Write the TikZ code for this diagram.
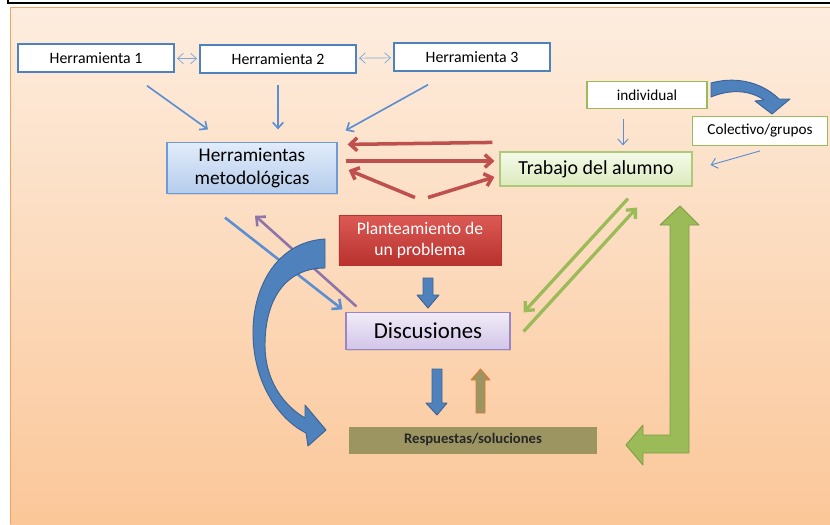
\documentclass[tikz,border=0pt]{standalone}
\usepackage{fontspec}
\setmainfont{Carlito}
\usetikzlibrary{arrows.meta,shadows}

\definecolor{bgtop}{HTML}{FDEDDF}
\definecolor{bgbot}{HTML}{FBC799}
\definecolor{bgline}{HTML}{F2A460}
\definecolor{toolblue}{HTML}{4F81BD}
\definecolor{lineblue}{HTML}{5B8FD2}
\definecolor{blockblue}{HTML}{4F81BD}
\definecolor{blockedge}{HTML}{3C6496}
\definecolor{metedge}{HTML}{6B9BDB}
\definecolor{mettop}{HTML}{E2ECFA}
\definecolor{metbot}{HTML}{B5CCEC}
\definecolor{grn}{HTML}{9BBB59}
\definecolor{grnedge}{HTML}{7F9E44}
\definecolor{trabtop}{HTML}{F5FAEA}
\definecolor{trabbot}{HTML}{DCEABD}
\definecolor{redline}{HTML}{C0504D}
\definecolor{plantop}{HTML}{DC5A55}
\definecolor{planbot}{HTML}{B8322E}
\definecolor{purp}{HTML}{8064A2}
\definecolor{disctop}{HTML}{F1ECF8}
\definecolor{discbot}{HTML}{D1C5E8}
\definecolor{discedge}{HTML}{9C85C4}
\definecolor{olive}{HTML}{9C9562}
\definecolor{oliveedge}{HTML}{E07A2E}

\begin{document}
\begin{tikzpicture}[x=0.03cm, y=-0.03cm,
    tool/.style={draw=toolblue, line width=1.2pt, fill=white, inner sep=0pt,
      minimum width=4.68cm, minimum height=0.84cm,
      font=\fontsize{13.5}{16}\selectfont},
    group/.style={draw=grn, line width=1.6pt, fill=white, inner sep=0pt,
      font=\fontsize{13}{15}\selectfont},
    thin/.style={->, >={Straight Barb[length=5pt, width=9pt]}, line width=1.4pt},
    fat/.style={->, >={Straight Barb[length=6pt, width=11pt]}, line width=3pt},
    block/.style={line width=0.8pt, line join=round}]

  % background
  \useasboundingbox (0,0) rectangle (830,524);
  \fill[white] (0,0) rectangle (830,524);
  \shade[top color=bgtop, bottom color=bgbot] (10,7) rectangle (830,524);
  \draw[bgline, line width=1pt] (10.5,524) -- (10.5,7.5) -- (830,7.5);
  \draw[black, line width=1.4pt] (8,0) -- (8,3) -- (830,3);

  % boxes
  \node[tool] (h1) at (96,58) {Herramienta 1};
  \node[tool] (h2) at (278,59) {Herramienta 2};
  \node[tool] (h3) at (472,57) {Herramienta 3};
  \node[draw=metedge, line width=1pt, top color=mettop, bottom color=metbot,
    minimum width=5.1cm, minimum height=1.53cm, inner sep=0pt, align=center,
    drop shadow={opacity=0.2, shadow xshift=1pt, shadow yshift=-1pt},
    font=\fontsize{16.5}{20}\selectfont] (met) at (252,168)
    {Herramientas\\metodológicas};
  \node[draw=grn!80, line width=1pt, top color=trabtop, bottom color=trabbot,
    minimum width=5.76cm, minimum height=1.02cm, inner sep=0pt,
    drop shadow={opacity=0.2, shadow xshift=1pt, shadow yshift=-1pt},
    font=\fontsize{17}{20}\selectfont] (trab) at (596,169) {Trabajo del alumno};
  \node[group, minimum width=3.6cm, minimum height=0.81cm] (ind) at (647,95)
    {individual};
  \node[group, minimum width=4.05cm, minimum height=0.87cm] (col) at (760,131)
    {Colectivo/grupos};
  \node[draw=planbot, line width=0.8pt, top color=plantop, bottom color=planbot,
    text=white, minimum width=4.86cm, minimum height=1.5cm, inner sep=0pt,
    align=center, drop shadow={opacity=0.3, shadow xshift=1pt, shadow yshift=-1pt},
    font=\fontsize{15}{18}\selectfont] (plan) at (420,240)
    {Planteamiento de\\un problema};
  \node[draw=discedge, line width=1pt, top color=disctop, bottom color=discbot,
    minimum width=4.92cm, minimum height=1.11cm, inner sep=0pt,
    drop shadow={opacity=0.2, shadow xshift=1pt, shadow yshift=-1pt},
    font=\fontsize{19.5}{22}\selectfont] (disc) at (428,331) {Discusiones};
  \node[fill=olive, minimum width=7.41cm, minimum height=0.81cm, inner sep=0pt,
    text=black!85, font=\bfseries\fontsize{12.5}{15}\selectfont] (resp)
    at (473,440) {Respuestas/soluciones};

  % thin connectors
  \begin{scope}[thin, lineblue]
    \draw ([shift={(51,13)}]h1.south) -- ([shift={(-44,-12.5)}]met.north);
    \draw ([shift={(0,11)}]h2.south) -- ([shift={(26,-12.5)}]met.north);
    \draw ([shift={(-44,13)}]h3.south) -- ([shift={(8,-11.5)}]met.north east);
    \draw[line width=0.8pt] ([shift={(-24,9.5)}]ind.south) -- ([shift={(27,-6)}]trab.north);
    \draw[line width=0.8pt] ([shift={(0,4.5)}]col.south) -- ([shift={(18,-4)}]trab.east);
    \draw[<->, line width=0.6pt, lineblue!80, shorten <=2pt, shorten >=2pt] (h1) -- (h2);
    \draw[<->, line width=0.6pt, lineblue!80, shorten <=2pt, shorten >=2pt] (h2) -- (h3);
  \end{scope}

  % red connectors
  \begin{scope}[fat, redline]
    \draw ([shift={(-7,-9)}]trab.north west) -- ([shift={(10,2.5)}]met.north east);
    \draw ([shift={(8,-7)}]met.east) -- ([shift={(-5,-8)}]trab.west);
    \draw ([shift={(-5,-17)}]plan.north) -- ([shift={(11,2)}]met.east);
    \draw ([shift={(8,-17)}]plan.north) -- ([shift={(-5,8)}]trab.west);
  \end{scope}

  % diagonal connectors
  \draw[fat, line width=2.2pt, lineblue] ([shift={(-27,23.5)}]met.south)
    -- ([shift={(-3,-2.5)}]disc.north west);
  \draw[fat, line width=2.2pt, purp!90] ([shift={(11,-5.5)}]disc.north west)
    -- ([shift={(3,21.5)}]met.south);
  \draw[fat, line width=2.8pt, grn] ([shift={(32,12)}]trab.south)
    -- ([shift={(13,0.5)}]disc.north east);
  \draw[fat, line width=2.8pt, grn] ([shift={(13,0.5)}]disc.east)
    -- ([shift={(41,21)}]trab.south);

  % block arrows
  \filldraw[block, fill=blockblue, draw=blockedge]
    (423,278) -- (433,278) -- (433,295) -- (439,295) -- (428,308)
    -- (417,295) -- (423,295) -- cycle;
  \filldraw[block, fill=blockblue, draw=blockedge]
    (432,369) -- (442,369) -- (442,403) -- (447,403) -- (437,415)
    -- (426,403) -- (432,403) -- cycle;
  \filldraw[block, fill=olive, draw=oliveedge]
    (476,413) -- (476,380) -- (471,380) -- (480.5,369) -- (490,380)
    -- (485,380) -- (485,413) -- cycle;
  \filldraw[block, fill=grn, draw=grnedge]
    (670,225) -- (660,225) -- (680,206) -- (699,225) -- (689,225)
    -- (689,453) -- (643,453) -- (643,465) -- (626,445) -- (643,425)
    -- (643,435) -- (670,435) -- cycle;
  \filldraw[block, fill=blockblue, draw=blockedge]
    (325,239) .. controls (275,242) and (252,290) .. (253,335)
    .. controls (254,385) and (280,420) .. (306,433)
    -- (308,446) -- (326,430) -- (305,405) -- (305,418)
    .. controls (283,405) and (265,380) .. (265,345)
    .. controls (265,300) and (285,268) .. (325,268) -- cycle;
  \filldraw[block, fill=blockblue, draw=blockedge]
    (711,83) .. controls (740,75) and (765,85) .. (779,99)
    -- (790,99) -- (772,114) -- (755,101) -- (764,100)
    .. controls (750,90) and (730,89) .. (711,97) -- cycle;
\end{tikzpicture}
\end{document}
